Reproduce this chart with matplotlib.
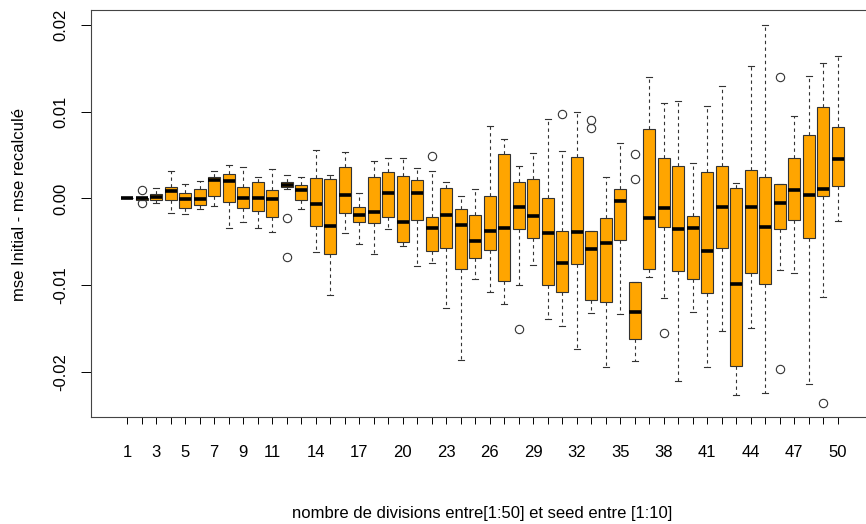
import matplotlib
matplotlib.use("Agg")
import matplotlib.pyplot as plt

plt.rcParams['font.family'] = ['Liberation Sans', 'DejaVu Sans']

# one box per number of divisions (1..50): whiskers, quartiles, median
divisions = list(range(1, 51))
whishi = [0.0, 0.0001, 0.00118, 0.00317, 0.00164, 0.00205, 0.00317, 0.00386, 0.00367, 0.00251,
          0.00337, 0.00267, 0.00251, 0.00559, 0.00271, 0.00536, 0.00067, 0.00436, 0.00463, 0.00463,
          0.00348, 0.00317, 0.00187, 0.00029, 0.00106, 0.00839, 0.00682, 0.00378, 0.00528, 0.00913,
          0.00551, 0.01001, -0.00375, 0.00251, 0.00643, -0.00966, 0.01404, 0.01104, 0.01124, 0.00413,
          0.0107, 0.01297, 0.00182, 0.01527, 0.0200, 0.00167, 0.00951, 0.01416, 0.01565, 0.01643]
q3 = [0.0, 0.0001, 0.00055, 0.00129, 0.0006, 0.00106, 0.00251, 0.00282, 0.00133, 0.00187,
      0.00094, 0.0019, 0.00159, 0.00236, 0.00225, 0.00367, -0.00095, 0.00251, 0.00302, 0.00263,
      0.00213, -0.0021, 0.00118, -0.00121, -0.00194, 0.00025, 0.00513, 0.00187, 0.00225, 0.00006,
      -0.00371, 0.00475, -0.00375, -0.00228, 0.00106, -0.00966, 0.00798, 0.00463, 0.00375, -0.00198,
      0.00302, 0.00375, 0.00124, 0.00332, 0.00248, 0.00167, 0.00467, 0.00735, 0.01058, 0.00828]
med = [0.0, 0.0, 0.00021, 0.00085, -0.0001, -0.00006, 0.0021, 0.00202, 0.0001, 0.0,
       -0.0001, 0.00159, 0.00098, -0.0006, -0.00317, 0.00044, -0.0019, -0.00152, 0.0006, -0.00271,
       0.0006, -0.00344, -0.0019, -0.00302, -0.0049, -0.00371, -0.00337, -0.00098, -0.00198, -0.00401,
       -0.0074, -0.00386, -0.00582, -0.0051, -0.00029, -0.01308, -0.00221, -0.00106, -0.00352, -0.00337,
       -0.00605, -0.00101, -0.00986, -0.00101, -0.00332, -0.00055, 0.00095, 0.00037, 0.00106, 0.00455]
q1 = [0.0, -0.0002, -0.00017, -0.00017, -0.00113, -0.00075, 0.00032, -0.00037, -0.0011, -0.0014,
      -0.00217, 0.00129, -0.00017, -0.00317, -0.00643, -0.00171, -0.00267, -0.00279, -0.0021, -0.00505,
      -0.00248, -0.00602, -0.00574, -0.00816, -0.00689, -0.00594, -0.00954, -0.00348, -0.00459, -0.01001,
      -0.01081, -0.00755, -0.01169, -0.01197, -0.00478, -0.01616, -0.00816, -0.00332, -0.00839, -0.00928,
      -0.01093, -0.00571, -0.01931, -0.00862, -0.00986, -0.00348, -0.00248, -0.00452, 0.00032, 0.00144]
whislo = [0.0, -0.0002, -0.00055, -0.00171, -0.00179, -0.00124, -0.00086, -0.00337, -0.00267, -0.00344,
          -0.00386, 0.0011, -0.00124, -0.00613, -0.01112, -0.00401, -0.00524, -0.0064, -0.00355, -0.00548,
          -0.00778, -0.0074, -0.01266, -0.01862, -0.00931, -0.01081, -0.0122, -0.00997, -0.00767, -0.01393,
          -0.0147, -0.01735, -0.01316, -0.01939, -0.01331, -0.01877, -0.00908, -0.01144, -0.02104, -0.01312,
          -0.01946, -0.01527, -0.02265, -0.01496, -0.02239, -0.00824, -0.00862, -0.02142, -0.01132, -0.00263]
outliers = {2: [0.00098, -0.00052], 12: [-0.00228, -0.00671], 22: [0.0049], 28: [-0.01504],
            31: [0.00978], 33: [0.00905, 0.00816], 36: [0.00513, 0.00221], 38: [-0.01554],
            46: [0.01397, -0.01969], 49: [-0.02354]}
shown_labels = [1, 3, 5, 7, 9, 11, 14, 17, 20, 23, 26, 29, 32, 35, 38, 41, 44, 47, 50]

stats = []
for k, d in enumerate(divisions):
    stats.append(dict(med=med[k], q1=q1[k], q3=q3[k], whislo=whislo[k], whishi=whishi[k],
                      fliers=outliers.get(d, [])))

fig = plt.figure(figsize=(8.66, 5.24), dpi=100)
ax = fig.add_axes([91 / 866, 107 / 524, 783 / 866, 407 / 524])

ax.bxp(stats, positions=divisions, widths=0.8, patch_artist=True, showcaps=True,
       boxprops=dict(facecolor='orange', edgecolor='#333333', linewidth=0.8),
       medianprops=dict(color='black', linewidth=2.6, solid_capstyle='butt'),
       whiskerprops=dict(color='#333333', linewidth=0.8, linestyle=(0, (3, 3))),
       capprops=dict(color='#333333', linewidth=0.8),
       capwidths=0.4,
       flierprops=dict(marker='o', markerfacecolor='none', markeredgecolor='#333333',
                       markersize=6, markeredgewidth=0.8))

ax.set_xlim(-1.5, 52.5)
ax.set_ylim(-0.02519, 0.02173)

ax.set_xticks(divisions)
ax.set_xticklabels([str(d) if d in shown_labels else '' for d in divisions])
ax.set_yticks([-0.02, -0.01, 0.0, 0.01, 0.02])
ax.set_yticklabels(['-0.02', '-0.01', '0.00', '0.01', '0.02'], rotation=90, va='center')
ax.tick_params(axis='x', length=5, width=0.7, pad=15, labelsize=12)
ax.tick_params(axis='y', length=7, width=0.7, pad=9.5, labelsize=12)
for s in ax.spines.values():
    s.set_linewidth(0.8)
    s.set_color('#444444')

ax.set_xlabel('nombre de divisions entre[1:50] et seed entre [1:10]', fontsize=12, labelpad=33)
ax.set_ylabel('mse Initial - mse recalculé', fontsize=12)
ax.yaxis.set_label_coords(-0.082, 0.521)

fig.savefig('out.png', dpi=100)
